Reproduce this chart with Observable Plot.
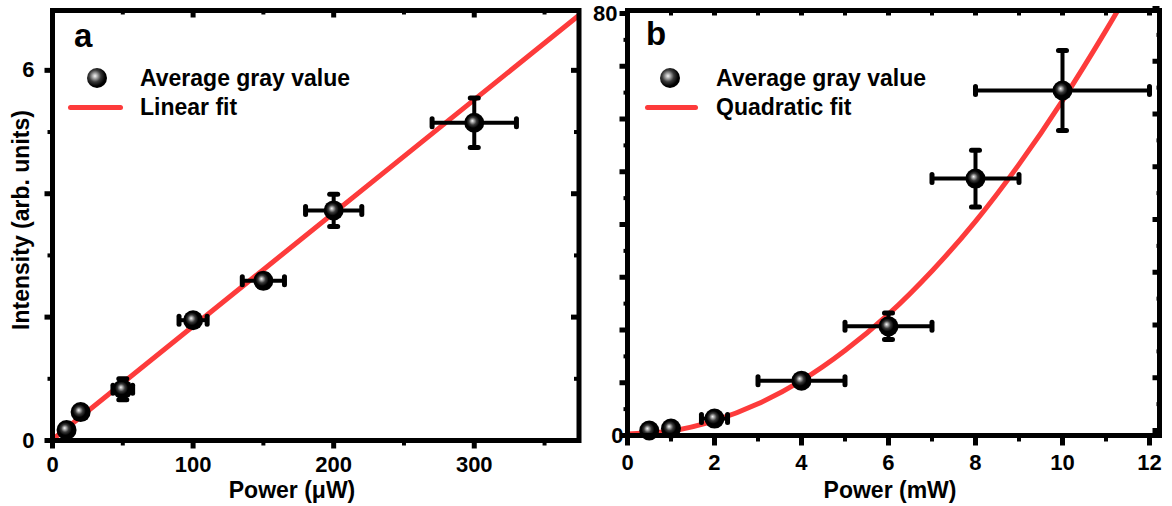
<!DOCTYPE html>
<html><head><meta charset="utf-8">
<script src="https://cdn.jsdelivr.net/npm/d3@7"></script>
<script src="https://cdn.jsdelivr.net/npm/@observablehq/plot@0.6"></script>
<style>
body{margin:0;background:#fff;}
#wrap{position:relative;width:1172px;height:506px;overflow:hidden;font-family:"Liberation Sans",Arial,sans-serif;font-weight:bold;color:#000;}
.abs{position:absolute;white-space:nowrap;line-height:1;}
.plotbox{position:absolute;top:0;}
.sphere{position:absolute;width:20px;height:20px;border-radius:50%;background:radial-gradient(circle at 40% 40%,#f4f4f4 0%,#b8b8b8 12%,#3a3a3a 35%,#000 60%);}
.redline{position:absolute;height:5px;border-radius:2.5px;background:#fd3b3b;}
</style></head><body>
<svg width="0" height="0" style="position:absolute"><defs>
<radialGradient id="sph" cx="0.46" cy="0.46" r="0.54" fx="0.4" fy="0.4">
<stop offset="0" stop-color="#f4f4f4"/><stop offset="0.12" stop-color="#b8b8b8"/><stop offset="0.35" stop-color="#3a3a3a"/><stop offset="0.6" stop-color="#000"/></radialGradient></defs></svg>
<div id="wrap">
  <div class="abs" style="left:74px;top:19px;font-size:33px;">a</div>
  <div class="sphere" style="left:87px;top:68px;"></div>
  <div class="abs" style="left:140px;top:66.5px;font-size:23px;">Average gray value</div>
  <div class="redline" style="left:68px;top:104.5px;width:55px;"></div>
  <div class="abs" style="left:140px;top:95.5px;font-size:23px;">Linear fit</div>
  <div class="abs" style="left:646px;top:17px;font-size:33px;">b</div>
  <div class="sphere" style="left:660px;top:68px;"></div>
  <div class="abs" style="left:716px;top:66.5px;font-size:23px;">Average gray value</div>
  <div class="redline" style="left:645px;top:104.5px;width:53px;"></div>
  <div class="abs" style="left:716px;top:95.5px;font-size:23px;">Quadratic fit</div>
  <div class="abs" style="left:292px;top:479px;font-size:23px;transform:translateX(-50%);">Power (μW)</div>
  <div class="abs" style="left:890px;top:479px;font-size:23px;transform:translateX(-50%);">Power (mW)</div>
  <div class="abs" style="left:20.5px;top:220px;font-size:23px;transform:translate(-50%,-50%) rotate(-90deg);">Intensity (arb. units)</div>
</div>
<script>
// ---- Panel a data ----
const powerUW = [10, 20, 50, 100, 150, 200, 300];
const intensityA = [0.17, 0.46, 0.83, 1.95, 2.59, 3.73, 5.15];
const powerErrA = [0, 0, 7, 10, 15, 20, 30];
const intensityErrA = [0, 0, 0.17, 0.05, 0.1, 0.26, 0.4];
const linFitX = [0, 376];
const linFitY = [0.015, 6.92];
const xMajorA = [0, 100, 200, 300];
const xMinorA = [50, 150, 250, 350];
const yMajorA = [0, 2, 4, 6];
const yMinorA = [1, 3, 5];
const xLabelsA = [0, 100, 200, 300];
const yLabelsA = [0, 6];

// ---- Panel b data ----
const powerMW = [0.5, 1, 2, 4, 6, 8, 10];
const intensityB = [0.95, 1.33, 3.2, 10.4, 20.7, 48.7, 65.4];
const powerErrB = [0, 0, 0.3, 1, 1, 1, 2];
const intensityErrB = [0, 0, 0, 0.5, 2.5, 5.4, 7.6];
const quadFitX = [0, 1, 2, 3, 4, 5, 6, 7, 8, 9, 10, 11, 11.6];
const quadFitY = [0.3, 0.85, 2.8, 6.0, 10.4, 16.1, 23.0, 31.2, 40.6, 51.4, 63.5, 76.8, 85.3];
const xMajorB = [0, 2, 4, 6, 8, 10, 12];
const xMinorB = [1, 3, 5, 7, 9, 11];
const yMajorB = [0, 10, 20, 30, 40, 50, 60, 70, 80];
const yMinorB = [5, 15, 25, 35, 45, 55, 65, 75];
const xLabelsB = [0, 2, 4, 6, 8, 10, 12];

const RED = "#fd3b3b";
const fmt = d => String(d);
const seg = (x1, y1, x2, y2) => ({draw(ctx) { ctx.moveTo(x1, y1); ctx.lineTo(x2, y2); }});

function ticks(values, anchor, len, sw, dy = 0) {
  const vertical = anchor === "top" || anchor === "bottom";
  const sym = vertical ? seg(0, 0, 0, len) : seg(0, 0, -len, 0);
  const o = {frameAnchor: anchor, symbol: sym, r: 1, stroke: "black", strokeWidth: sw, fill: "none", strokeLinecap: "butt", dy};
  if (vertical) o.x = d => d; else o.y = d => d;
  return Plot.dot(values, o);
}

function errMarks(rows) {
  const hx = rows.filter(d => d.xe > 0), vy = rows.filter(d => d.ye > 0);
  const capV = seg(0, -4, 0, 4), capH = seg(-4, 0, 4, 0);
  const capStyle = {r: 1, stroke: "black", strokeWidth: 5, fill: "none", strokeLinecap: "round"};
  return [
    Plot.ruleY(hx, {y: "y", x1: d => d.x - d.xe, x2: d => d.x + d.xe, stroke: "black", strokeWidth: 4}),
    Plot.ruleX(vy, {x: "x", y1: d => d.y - d.ye, y2: d => d.y + d.ye, stroke: "black", strokeWidth: 4}),
    Plot.dot(hx, {x: d => d.x - d.xe, y: "y", symbol: capV, ...capStyle}),
    Plot.dot(hx, {x: d => d.x + d.xe, y: "y", symbol: capV, ...capStyle}),
    Plot.dot(vy, {x: "x", y: d => d.y - d.ye, symbol: capH, ...capStyle}),
    Plot.dot(vy, {x: "x", y: d => d.y + d.ye, symbol: capH, ...capStyle})
  ];
}

const svgStyle = {fontFamily: "'Liberation Sans', Arial, sans-serif", fontWeight: "bold", fontSize: "22px", background: "transparent", overflow: "visible", color: "black"};

// ---- Panel a ----
const rowsA = powerUW.map((x, i) => ({x, y: intensityA[i], xe: powerErrA[i], ye: intensityErrA[i]}));
const fitA = linFitX.map((x, i) => ({x, y: linFitY[i]}));
const plotA = Plot.plot({
  width: 580, height: 506,
  marginLeft: 52, marginRight: 1.5, marginTop: 10, marginBottom: 66,
  x: {domain: [0, 374.5], label: null},
  y: {domain: [0, 6.97], label: null},
  style: svgStyle,
  marks: [
    Plot.line(fitA, {x: "x", y: "y", stroke: RED, strokeWidth: 5, clip: true}),
    ...errMarks(rowsA),
    Plot.dot(rowsA, {x: "x", y: "y", r: 10, fill: "url(#sph)", stroke: "none"}),
    Plot.frame({stroke: "black", strokeWidth: 5}),
    ticks(xMajorA, "bottom", 8, 5), ticks(xMinorA, "bottom", 5, 4),
    ticks(xMajorA, "top", 7, 5), ticks(xMinorA, "top", 4, 4),
    ticks(yMajorA, "left", 8, 5), ticks(yMinorA, "left", 5, 4),
    ticks(yMajorA, "right", 8, 5), ticks(yMinorA, "right", 5, 4),
    Plot.axisX({ticks: xLabelsA, tickFormat: fmt, anchor: "bottom", tickSize: 0, tickPadding: 16, fontSize: 22, label: null}),
    Plot.axisY({ticks: yLabelsA, tickFormat: fmt, anchor: "left", tickSize: 0, tickPadding: 18, fontSize: 22, label: null})
  ]
});

// ---- Panel b ----
const rowsB = powerMW.map((x, i) => ({x, y: intensityB[i], xe: powerErrB[i], ye: intensityErrB[i]}));
const fitB = quadFitX.map((x, i) => ({x, y: quadFitY[i]}));
const plotB = Plot.plot({
  width: 592, height: 506,
  marginLeft: 47, marginRight: 13, marginTop: 10, marginBottom: 71,
  x: {domain: [0, 12.23], label: null},
  y: {domain: [0, 80.57], label: null},
  style: svgStyle,
  marks: [
    Plot.line(fitB, {x: "x", y: "y", stroke: RED, strokeWidth: 5, curve: "natural", clip: true}),
    ...errMarks(rowsB),
    Plot.dot(rowsB, {x: "x", y: "y", r: 10, fill: "url(#sph)", stroke: "none"}),
    Plot.frame({stroke: "black", strokeWidth: 5}),
    ticks(xMajorB, "bottom", 10, 5), ticks(xMinorB, "bottom", 6, 4),
    ticks(xMajorB, "top", 5, 5), ticks(xMinorB, "top", 5, 4),
    ticks(yMajorB, "left", 8, 5), ticks(yMinorB, "left", 4, 4),
    ticks(yMajorB, "right", 7, 5, -5), ticks(yMinorB, "right", 3, 4, -5),
    Plot.axisX({ticks: xLabelsB, tickFormat: fmt, anchor: "bottom", tickSize: 0, tickPadding: 19, fontSize: 22, label: null}),
    Plot.axisY({ticks: [80], tickFormat: fmt, anchor: "left", tickSize: 0, tickPadding: 10, fontSize: 22, label: null}),
    Plot.axisY({ticks: [0], tickFormat: fmt, anchor: "left", tickSize: 0, tickPadding: 4, fontSize: 22, label: null})
  ]
});

const wrap = document.getElementById("wrap");
plotA.classList.add("plotbox"); plotA.style.left = "0px";
plotB.classList.add("plotbox"); plotB.style.left = "580px";
wrap.insertBefore(plotB, wrap.firstChild);
wrap.insertBefore(plotA, wrap.firstChild);
</script>
</body></html>
